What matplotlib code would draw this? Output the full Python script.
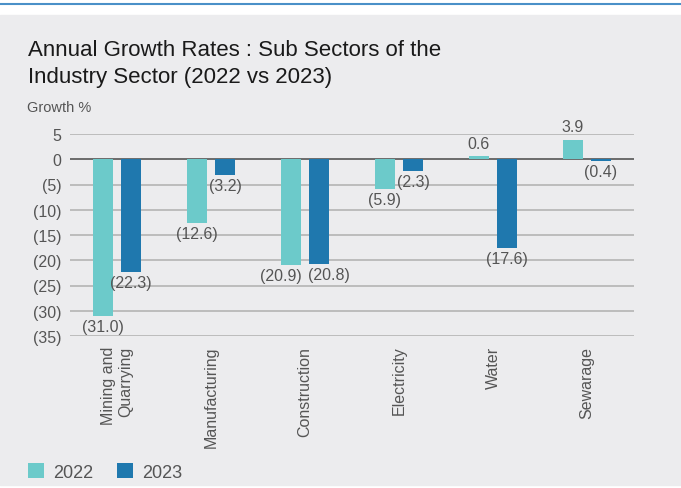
import numpy as np
import matplotlib.pyplot as plt
from matplotlib.patches import Rectangle

# annual growth rates of the industry sub sectors (%)
sectors = ["Mining and\nQuarrying", "Manufacturing", "Construction",
           "Electricity", "Water", "Sewarage"]
growth_2022 = [-31.0, -12.6, -20.9, -5.9, 0.6, 3.9]
growth_2023 = [-22.3, -3.2, -20.8, -2.3, -17.6, -0.4]
yticks = [5, 0, -5, -10, -15, -20, -25, -30, -35]

c22 = "#6ccaca"
c23 = "#1f78ae"
txt = "#555555"
plt.rcParams["font.family"] = ["Liberation Sans", "DejaVu Sans"]

fig = plt.figure(figsize=(6.81, 4.89), dpi=100, facecolor="white")

# grey panel and blue rule at the top
fig.patches.append(Rectangle((0, 1 - 486 / 489), 1, 470 / 489,
                             transform=fig.transFigure, color="#ececee", zorder=-5))
fig.lines.append(plt.Line2D([0, 1], [1 - 5 / 489] * 2, transform=fig.transFigure,
                            color="#4a90c8", lw=1.5, zorder=-4))

fig.text(28 / 681, 1 - 56 / 489, "Annual Growth Rates : Sub Sectors of the",
         fontsize=16, color="#1a1a1a", va="baseline", ha="left")
fig.text(28 / 681, 1 - 83 / 489, "Industry Sector (2022 vs 2023)",
         fontsize=16, color="#1a1a1a", va="baseline", ha="left")
fig.text(27 / 681, 1 - 108 / 489, "Growth %", fontsize=10.5, color=txt, va="center")

ax = fig.add_axes([70 / 681, 1 - 337 / 489, 564 / 681, 202 / 489])
ax.set_facecolor("none")

x = np.arange(len(sectors))
w = 0.213
off = 0.149
b1 = ax.bar(x - off, growth_2022, w, color=c22, zorder=3, label="2022")
b2 = ax.bar(x + off, growth_2023, w, color=c23, zorder=3, label="2023")

def fmt(v):
    return f"({abs(v):.1f})" if v < 0 else f"{v:.1f}"

# nudge the two Construction labels apart so they don't collide
nudge = {(0, 2): -7, (1, 2): 7}

for k, (xs, vals) in enumerate(((x - off, growth_2022), (x + off, growth_2023))):
    for i, (xi, v) in enumerate(zip(xs, vals)):
        dx = nudge.get((k, i), 0)
        if v < 0:
            ax.annotate(fmt(v), (xi, v), xytext=(dx, -2), textcoords="offset points",
                        ha="center", va="top", fontsize=11.5, color=txt, zorder=4)
        else:
            ax.annotate(fmt(v), (xi, v), xytext=(dx, 4), textcoords="offset points",
                        ha="center", va="bottom", fontsize=11.5, color=txt, zorder=4)

ax.set_xlim(-0.5, len(sectors) - 0.5)
ax.set_ylim(-35, 5)
ax.set_yticks(yticks)
ax.set_yticklabels([str(t) if t >= 0 else f"({abs(t)})" for t in yticks])
for t in yticks:
    ax.axhline(t, color="#555555" if t == 0 else "#b4b4b4", lw=1.2, zorder=1 if t else 2)

ax.set_xticks(x)
ax.set_xticklabels(sectors, rotation=90, va="top", ha="center", multialignment="right",
                   fontsize=11.5, color=txt, linespacing=1.15)
ax.tick_params(axis="y", length=0, pad=6, labelsize=11.5, labelcolor=txt)
ax.tick_params(axis="x", length=0, pad=7)
for s in ax.spines.values():
    s.set_visible(False)

fig.legend(handles=[b1, b2], labels=["2022", "2023"], loc="center left",
           bbox_to_anchor=(28 / 681, 1 - 473 / 489), ncol=2, frameon=False,
           fontsize=13, handlelength=0.9, handleheight=0.9, handletextpad=0.5,
           columnspacing=1.3, labelcolor=txt, borderpad=0, borderaxespad=0)

fig.savefig("out.png", dpi=100, facecolor="white")
